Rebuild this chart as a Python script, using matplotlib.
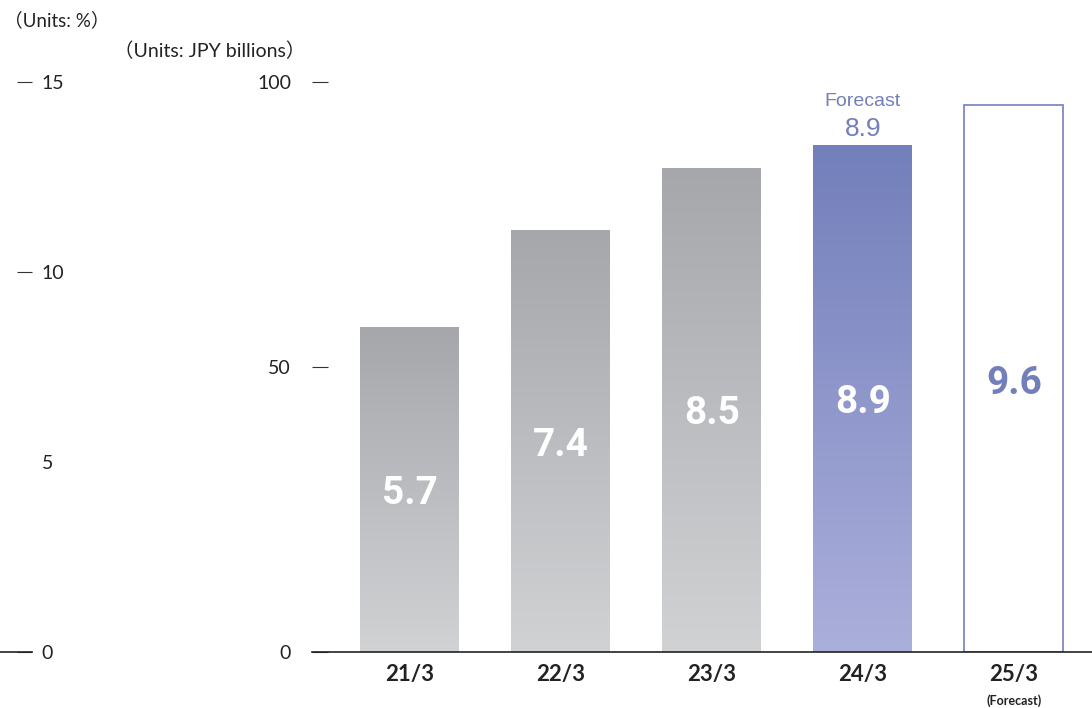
import numpy as np
import matplotlib
matplotlib.use("Agg")
import matplotlib.pyplot as plt
from matplotlib.colors import LinearSegmentedColormap

# Data
periods = ["21/3", "22/3", "23/3", "24/3", "25/3"]
values = [57, 74, 85, 89, 96]            # JPY billions (bar heights)
ratios = ["5.7", "7.4", "8.5", "8.9", "9.6"]
forecast_prev = "8.9"
pct_ticks = [0, 5, 10, 15]
jpy_ticks = [0, 50, 100]

FONT = ["Lato", "Noto Sans CJK JP", "DejaVu Sans"]
TEXT = "#222222"
BLUE = "#737FBB"
plt.rcParams["font.family"] = FONT

W, H = 1092, 708
fig = plt.figure(figsize=(W / 100, H / 100), dpi=100)

bottom_px, top_px = 652, 82
ax = fig.add_axes([312 / W, (H - bottom_px) / H, 1 - 312 / W, (bottom_px - top_px) / H])
step = 151.1

grey = LinearSegmentedColormap.from_list("g", ["#D1D2D4", "#A6A7AB"])
blue = LinearSegmentedColormap.from_list("b", ["#ABAFDB", "#737FBB"])
grad = np.linspace(0, 1, 256).reshape(-1, 1)

x = np.arange(len(periods))
width = 0.655
for i, (v, lab) in enumerate(zip(values, ratios)):
    # value label sits at mid-height of the bar
    if i == len(values) - 1:
        ax.bar(i, v, width=width, facecolor="white", edgecolor=BLUE, linewidth=1.2)
        ax.text(i, v / 2 - 0.9, lab, ha="center", va="center", color=BLUE,
                fontsize=28, fontweight="bold", family=["Roboto"])
        continue
    bar = ax.bar(i, v, width=width, color="none", edgecolor="none")[0]
    cmap = blue if i == 3 else grey
    im = ax.imshow(grad, cmap=cmap, aspect="auto", origin="lower",
                   extent=(i - width / 2, i + width / 2, 0, v), zorder=1)
    im.set_clip_path(bar)
    ax.text(i, v / 2 - 0.7, lab, ha="center", va="center", color="white",
            fontsize=28, fontweight="bold", family=["Roboto"], zorder=3)

# forecast note above the 24/3 bar
ax.text(3, values[3] + 0.6, forecast_prev, ha="center", va="bottom", color=BLUE,
        fontsize=19, family=["Liberation Sans"])
ax.text(3, values[3] + 6.0, "Forecast", ha="center", va="bottom", color=BLUE,
        fontsize=14, family=["Liberation Sans"])

ax.set_xlim((312 - 409.5) / step, (1092 - 409.5) / step)
ax.set_ylim(0, 100)
ax.set_xticks(x)
ax.set_xticklabels(periods, fontsize=16, fontweight="bold", color=TEXT)
ax.tick_params(axis="x", length=0, pad=9)
ax.text(4, -8.6, "(Forecast)", ha="center", va="center", fontsize=9,
        fontweight="bold", color=TEXT)
ax.set_yticks(jpy_ticks)
ax.set_yticklabels([str(t) for t in jpy_ticks], fontsize=14, color=TEXT)
ax.tick_params(axis="y", direction="in", length=11.5, width=0.8, color="#333333",
               pad=15)
for s in ["top", "right", "left"]:
    ax.spines[s].set_visible(False)
ax.spines["bottom"].set_color("#222222")
ax.spines["bottom"].set_linewidth(1.2)

# left percentage axis
ax2 = fig.add_axes([0, (H - bottom_px) / H, 32 / W, (bottom_px - top_px) / H])
ax2.set_ylim(0, 15)
ax2.set_xticks([])
ax2.set_yticks(pct_ticks)
ax2.set_yticklabels([str(t) for t in pct_ticks], fontsize=14, color=TEXT)
ax2.yaxis.tick_right()
ax2.tick_params(axis="y", direction="in", length=11, width=0.8, color="#333333", pad=7)
ax2.yaxis.get_major_ticks()[1].tick2line.set_visible(False)
for s in ["top", "right", "left"]:
    ax2.spines[s].set_visible(False)
ax2.spines["bottom"].set_color("#222222")
ax2.spines["bottom"].set_linewidth(1.2)
ax2.patch.set_visible(False)

fig.text(4 / W, 1 - 20 / H, "（Units: %）", fontsize=13.5, color=TEXT, va="center")
fig.text(305 / W, 1 - 51 / H, "（Units: JPY billions）", fontsize=14, color=TEXT,
         va="center", ha="right")

fig.savefig("out.png", dpi=100)
